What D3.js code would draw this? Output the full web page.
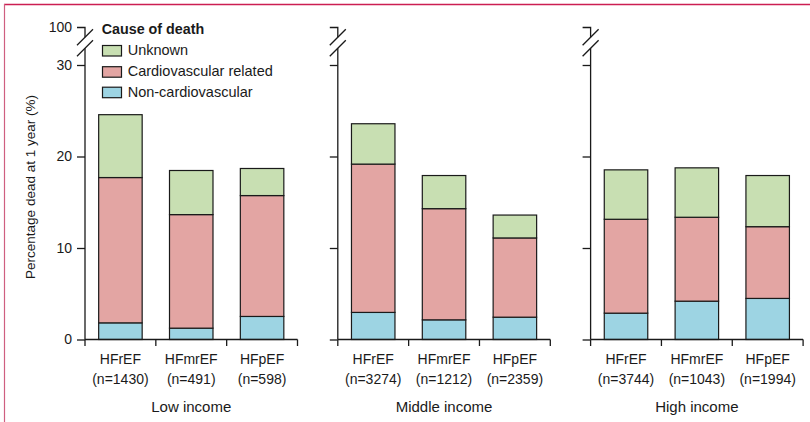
<!DOCTYPE html>
<html><head><meta charset="utf-8">
<script src="https://cdn.jsdelivr.net/npm/d3@7"></script>
<style>
html,body{margin:0;padding:0;background:#fff;}
svg text{font-family:"Liberation Sans",Arial,sans-serif;fill:#1a1a1a;}
</style></head>
<body><svg id="chart" width="810" height="422"></svg>
<script>
// ---- data ----
const incomeGroups = ["Low income", "Middle income", "High income"];
const efTypes = ["HFrEF", "HFmrEF", "HFpEF"];
const sampleSizes = [1430, 491, 598, 3274, 1212, 2359, 3744, 1043, 1994];
// percentage dead at 1 year by cause (order: Low r/mr/p, Middle r/mr/p, High r/mr/p)
const nonCardiovascular = [1.82, 1.24, 2.52, 2.96, 2.15, 2.44, 2.88, 4.19, 4.49];
const cardiovascular    = [15.88, 12.41, 13.21, 16.21, 12.15, 8.66, 10.26, 9.17, 7.84];
const unknownCause      = [6.87, 4.82, 2.96, 4.41, 3.62, 2.50, 5.40, 5.40, 5.59];
const yTicks = [0, 10, 20, 30];
const breakTickLabel = "100";
const legendTitle = "Cause of death";
const seriesNames = ["Unknown", "Cardiovascular related", "Non-cardiovascular"];
const yLabel = "Percentage dead at 1 year (%)";

// ---- styles ----
const colors = {"Non-cardiovascular": "#9dd4e3", "Cardiovascular related": "#e3a5a3", "Unknown": "#c8dfb2"};
const ink = "#1a1a1a";

const svg = d3.select("#chart");

// frame lines
svg.append("line").attr("x1", 4).attr("x2", 810).attr("y1", 4.5).attr("y2", 4.5)
  .attr("stroke", "#cc1e52").attr("stroke-width", 1.4);
svg.append("line").attr("x1", 4.5).attr("x2", 4.5).attr("y1", 4).attr("y2", 422)
  .attr("stroke", "#cf5f80").attr("stroke-width", 1.2);

const y = d3.scaleLinear().domain([0, 30]).range([339.5, 65]);
const yBreakTop = 27.5;
const panelX0 = 85, panelW = 212.5, panelStep = 252.8;

const stackKeys = ["Non-cardiovascular", "Cardiovascular related", "Unknown"];
const rows = sampleSizes.map((n, i) => ({
  group: incomeGroups[Math.floor(i / 3)],
  ef: efTypes[i % 3],
  n: n,
  "Non-cardiovascular": nonCardiovascular[i],
  "Cardiovascular related": cardiovascular[i],
  "Unknown": unknownCause[i]
}));
const stack = d3.stack().keys(stackKeys);

incomeGroups.forEach((grp, gi) => {
  const ox = panelX0 + gi * panelStep;
  const x = d3.scaleBand().domain(efTypes).range([ox, ox + panelW])
    .paddingInner(0.386).paddingOuter(0.193);
  const g = svg.append("g");
  const data = rows.filter(r => r.group === grp);
  const series = stack(data);

  // bars
  series.forEach(s => {
    g.selectAll(null).data(s).join("rect")
      .attr("x", d => x(d.data.ef))
      .attr("width", x.bandwidth())
      .attr("y", d => y(d[1]))
      .attr("height", d => y(d[0]) - y(d[1]))
      .attr("fill", colors[s.key])
      .attr("stroke", ink).attr("stroke-width", 1.2);
  });

  // y axis ticks via d3 axis
  const yAxis = d3.axisLeft(y).tickValues(yTicks).tickSize(8).tickPadding(5)
    .tickFormat(gi === 0 ? d3.format("d") : () => "");
  const ya = g.append("g").attr("transform", `translate(${ox},0)`).call(yAxis);
  ya.select(".domain").remove();
  ya.selectAll("line").attr("stroke", ink).attr("stroke-width", 1.3);
  ya.selectAll("text").attr("font-size", 14).attr("fill", ink)
    .style("font-family", '"Liberation Sans",Arial,sans-serif');

  // axis line with break
  const slashMid1 = 37.2, slashMid2 = 48.3;
  g.append("path")
    .attr("d", `M${ox - 8},${yBreakTop}H${ox}V${slashMid1}`)
    .attr("fill", "none").attr("stroke", ink).attr("stroke-width", 1.3);
  g.append("line").attr("x1", ox).attr("x2", ox).attr("y1", slashMid2).attr("y2", y(0))
    .attr("stroke", ink).attr("stroke-width", 1.3);
  [slashMid1, slashMid2].forEach(m => {
    g.append("line").attr("x1", ox - 8).attr("y1", m + 8).attr("x2", ox + 8).attr("y2", m - 8)
      .attr("stroke", ink).attr("stroke-width", 1.3);
  });
  if (gi === 0) {
    g.append("text").attr("x", ox - 13).attr("y", yBreakTop).attr("dy", "0.32em")
      .attr("text-anchor", "end").attr("font-size", 14).text(breakTickLabel);
  }

  // x axis baseline + boundary ticks
  g.append("line").attr("x1", ox).attr("x2", ox + panelW).attr("y1", y(0)).attr("y2", y(0))
    .attr("stroke", ink).attr("stroke-width", 1.3);
  const bounds = efTypes.map(e => x(e) - x.step() * x.paddingInner() / 2);
  bounds[0] = ox;
  bounds.push(ox + panelW);
  g.selectAll(null).data(bounds).join("line")
    .attr("x1", d => d).attr("x2", d => d)
    .attr("y1", y(0)).attr("y2", y(0) + 6.5)
    .attr("stroke", ink).attr("stroke-width", 1.3);

  // category labels
  data.forEach(d => {
    const cx = x(d.ef) + x.bandwidth() / 2;
    g.append("text").attr("x", cx).attr("y", 364.3).attr("text-anchor", "middle")
      .attr("font-size", 14).text(d.ef);
    g.append("text").attr("x", cx).attr("y", 384).attr("text-anchor", "middle")
      .attr("font-size", 14).text(`(n=${d.n})`);
  });
  g.append("text").attr("x", ox + panelW / 2).attr("y", 412.3).attr("text-anchor", "middle")
    .attr("font-size", 15).text(grp);
});

// y label
svg.append("text")
  .attr("transform", "translate(34.5,187) rotate(-90)")
  .attr("text-anchor", "middle").attr("font-size", 13.5).text(yLabel);

// legend
const lg = svg.append("g");
lg.append("text").attr("x", 101.7).attr("y", 34.3).attr("font-size", 14.3)
  .attr("font-weight", "bold").text(legendTitle);
const legendBaselines = [55, 76.2, 96.7];
seriesNames.forEach((name, i) => {
  lg.append("rect").attr("x", 102.5).attr("y", legendBaselines[i] - 9.5)
    .attr("width", 19).attr("height", 10.5)
    .attr("fill", colors[name]).attr("stroke", ink).attr("stroke-width", 1.2);
  lg.append("text").attr("x", 127.7).attr("y", legendBaselines[i])
    .attr("font-size", 14.5).text(name);
});
</script>
</body></html>
